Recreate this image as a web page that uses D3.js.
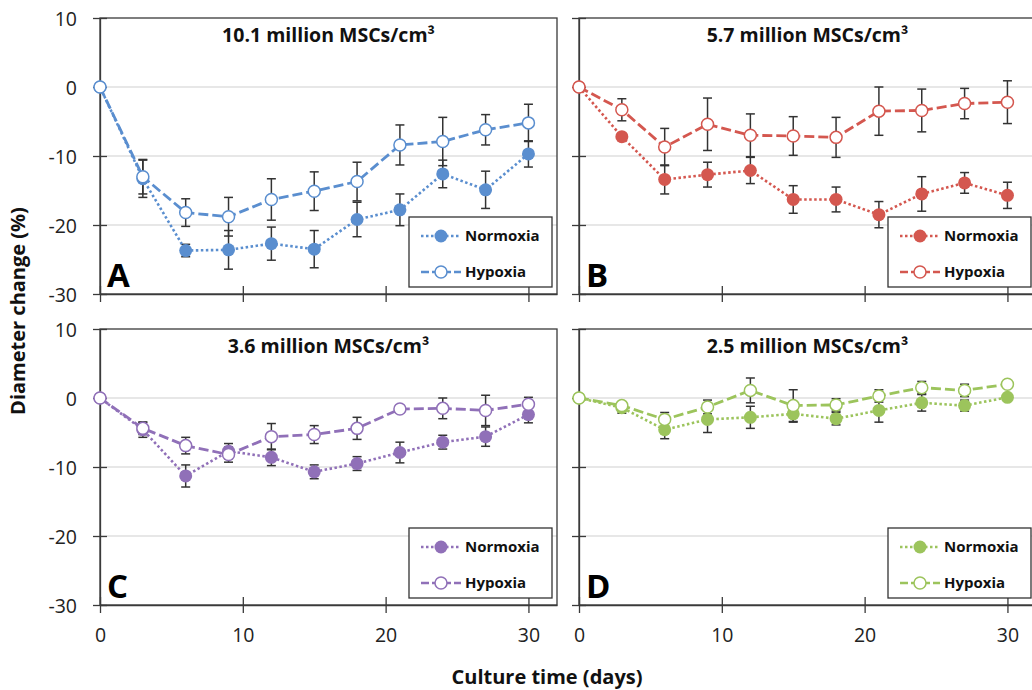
<!DOCTYPE html>
<html><head><meta charset="utf-8">
<script src="https://cdn.jsdelivr.net/npm/d3@7"></script>
<style>body{margin:0;background:#fff}svg{display:block}text{font-family:"Open Sans",Carlito,Arial,sans-serif}</style>
</head><body>
<svg id="c" width="1032" height="690"></svg>
<script>
const days = [0,3,6,9,12,15,18,21,24,27,30];
const yTicks = [10,0,-10,-20,-30];
const xTicks = [0,10,20,30];
const seriesNames = ["Normoxia","Hypoxia"];
const titles = ["10.1 million MSCs/cm³","5.7 million MSCs/cm³","3.6 million MSCs/cm³","2.5 million MSCs/cm³"];
const letters = ["A","B","C","D"];
const colors = ["#5a8ecf","#d4574f","#9070b8","#9cc45c"];

const aNorm    = [0,-13.3,-23.7,-23.6,-22.7,-23.5,-19.2,-17.8,-12.6,-14.9,-9.7];
const aNormErr = [0,2.7,0.9,2.8,2.4,2.7,2.5,2.3,2.0,2.7,1.9];
const aHyp     = [0,-13.0,-18.2,-18.8,-16.3,-15.1,-13.7,-8.4,-7.9,-6.2,-5.2];
const aHypErr  = [0,2.5,2.0,2.8,3.0,2.8,2.8,2.9,3.5,2.2,2.7];

const bNorm    = [0,-7.2,-13.4,-12.7,-12.1,-16.3,-16.3,-18.5,-15.5,-13.9,-15.7];
const bNormErr = [0,0.3,2.1,1.8,1.9,2.0,1.8,1.9,2.5,1.5,1.9];
const bHyp     = [0,-3.3,-8.7,-5.4,-7.0,-7.1,-7.3,-3.5,-3.4,-2.4,-2.2];
const bHypErr  = [0,1.6,2.7,3.8,3.1,2.8,2.9,3.5,3.1,2.2,3.1];

const cNorm    = [0,-4.6,-11.3,-7.7,-8.6,-10.7,-9.5,-7.9,-6.4,-5.6,-2.4];
const cNormErr = [0,1.1,1.6,1.1,1.2,1.0,1.0,1.5,1.0,1.4,1.2];
const cHyp     = [0,-4.4,-6.9,-8.2,-5.6,-5.3,-4.4,-1.6,-1.5,-1.8,-0.9];
const cHypErr  = [0,0.9,1.2,1.1,1.9,1.3,1.6,0.3,1.5,2.2,1.0];

const dNorm    = [0,-1.4,-4.6,-3.1,-2.8,-2.3,-3.0,-1.8,-0.7,-1.1,0.1];
const dNormErr = [0,0.8,1.3,1.9,1.6,1.2,0.9,1.7,1.2,0.8,0.3];
const dHyp     = [0,-1.1,-3.1,-1.3,1.1,-1.1,-1.0,0.3,1.5,1.1,2.0];
const dHypErr  = [0,0.4,1.0,1.0,1.8,2.3,0.9,0.9,0.9,0.9,0.5];

const panelData = [
  [[aNorm,aNormErr],[aHyp,aHypErr]],
  [[bNorm,bNormErr],[bHyp,bHypErr]],
  [[cNorm,cNormErr],[cHyp,cHypErr]],
  [[dNorm,dNormErr],[dHyp,dHypErr]]
];

const svg = d3.select("#c");
const W = 457, H = 276;
const origins = [[100,18],[579,18],[100,329],[579,329]];
const dashes = ["2.5,2.5","10,4"];

panelData.forEach((pd, pi) => {
  const [ox, oy] = origins[pi];
  const col = colors[pi];
  const g = svg.append("g").attr("transform", `translate(${ox},${oy})`);
  const x = d3.scaleLinear().domain([0,32]).range([0,W]);
  const y = d3.scaleLinear().domain([-30,10]).range([H,0]);

  g.selectAll("line.grid").data([0,-10,-20]).join("line")
    .attr("x1",0).attr("x2",W).attr("y1",d=>y(d)).attr("y2",d=>y(d))
    .attr("stroke","#cfcfcf").attr("stroke-width",1.2);

  g.append("rect").attr("x",0).attr("y",0).attr("width",W).attr("height",H)
    .attr("fill","none").attr("stroke","#3a3a3a").attr("stroke-width",1.3);

  const yAx = d3.axisLeft(y).tickValues(yTicks).tickSizeInner(7).tickSizeOuter(0)
    .tickFormat(pi%2===0 ? (d => String(d)) : "");
  const ya = g.append("g").call(yAx);
  ya.select(".domain").attr("stroke","#3a3a3a").attr("stroke-width",1.3);
  ya.selectAll(".tick line").attr("x2",-7).attr("x1",7).attr("stroke","#3a3a3a").attr("stroke-width",1.3);
  ya.selectAll(".tick text").attr("x",-23).attr("dy","0.4em").attr("font-size",19.5).attr("fill","#222")
    .attr("font-family","'Open Sans',sans-serif");

  const xAx = d3.axisBottom(x).tickValues(xTicks).tickSizeInner(8).tickSizeOuter(0)
    .tickFormat(pi>=2 ? (d => String(d)) : "");
  const xa = g.append("g").attr("transform",`translate(0,${H})`).call(xAx);
  xa.select(".domain").attr("stroke","#3a3a3a").attr("stroke-width",1.3);
  xa.selectAll(".tick line").attr("y1",-8).attr("y2",8).attr("stroke","#3a3a3a").attr("stroke-width",1.3);
  xa.selectAll(".tick text").attr("y",23).attr("font-size",19.5).attr("fill","#222")
    .attr("font-family","'Open Sans',sans-serif");

  pd.forEach(([vals, errs]) => {
    const eb = g.append("g");
    days.forEach((dday, i) => {
      if (errs[i] <= 0) return;
      const cx = x(dday), y1 = y(vals[i]+errs[i]), y2 = y(vals[i]-errs[i]);
      eb.append("line").attr("x1",cx).attr("x2",cx).attr("y1",y1).attr("y2",y2)
        .attr("stroke","#333").attr("stroke-width",1.5);
      [y1,y2].forEach(yy => eb.append("line").attr("x1",cx-4.5).attr("x2",cx+4.5)
        .attr("y1",yy).attr("y2",yy).attr("stroke","#333").attr("stroke-width",1.5));
    });
  });

  pd.forEach(([vals], si) => {
    const line = d3.line().x((d,i)=>x(days[i])).y(d=>y(d));
    g.append("path").datum(vals).attr("d",line).attr("fill","none")
      .attr("stroke",col).attr("stroke-width",si===0?2.6:2.8)
      .attr("stroke-dasharray",dashes[si]);
  });
  pd.forEach(([vals], si) => {
    g.selectAll(null).data(vals).join("circle")
      .attr("cx",(d,i)=>x(days[i])).attr("cy",d=>y(d))
      .attr("r", si===0?6.5:6)
      .attr("fill", si===0?col:"#fff")
      .attr("stroke", col).attr("stroke-width", si===0?0:1.5);
  });

  g.append("text").attr("x",W/2).attr("y",24).attr("text-anchor","middle")
    .attr("font-size",19.5).attr("font-weight","bold").attr("fill","#111").text(titles[pi]);

  g.append("text").attr("x",7).attr("y",H-7).attr("font-size",33).attr("font-weight","bold")
    .attr("fill","#000").text(letters[pi]);

  const lg = g.append("g").attr("transform",`translate(${W-148},${H-77})`);
  lg.append("rect").attr("width",143).attr("height",70).attr("fill","#fff")
    .attr("stroke","#333").attr("stroke-width",1.3);
  seriesNames.forEach((nm, si) => {
    const ry = si===0 ? 19 : 55;
    lg.append("line").attr("x1",12).attr("x2",52).attr("y1",ry).attr("y2",ry)
      .attr("stroke",col).attr("stroke-width",2.6).attr("stroke-dasharray",si===0?"2.5,2.5":"8,3");
    lg.append("circle").attr("cx",32).attr("cy",ry).attr("r",si===0?6.5:6)
      .attr("fill",si===0?col:"#fff").attr("stroke",col).attr("stroke-width",si===0?0:1.5);
    lg.append("text").attr("x",56).attr("y",ry).attr("dy","0.36em")
      .attr("font-size",15).attr("font-weight","bold").attr("fill","#111").text(nm);
  });
});

svg.append("text").attr("x",547).attr("y",684).attr("text-anchor","middle")
  .attr("font-size",20).attr("font-weight","bold").attr("fill","#111").text("Culture time (days)");
svg.append("text").attr("transform","translate(25,311) rotate(-90)").attr("text-anchor","middle")
  .attr("font-size",20).attr("font-weight","bold").attr("fill","#111").text("Diameter change (%)");
</script>
</body></html>
